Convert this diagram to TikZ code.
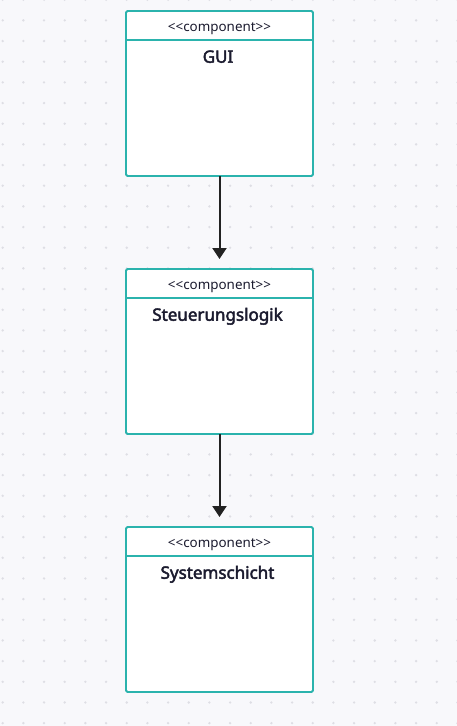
\documentclass[tikz,border=0pt]{standalone}
\usepackage{fontspec}
\setmainfont{Noto Sans}
\newfontfamily\titlefont{Noto Sans}[FakeBold=2.6]
\usetikzlibrary{arrows.meta}
\definecolor{bgc}{HTML}{F8F8FB}
\definecolor{dotc}{HTML}{DEDEE4}
\definecolor{teal}{HTML}{2BB3AD}
\definecolor{ink}{HTML}{1B1B2F}
\definecolor{arr}{HTML}{222222}
\tikzset{
  compbox/.style={draw=teal, line width=1.8pt, fill=white, rounded corners=1.5pt,
    minimum width=187pt, minimum height=165pt, inner sep=0pt, outer sep=0pt, anchor=north west},
  stereo/.style={font=\fontsize{13.4}{15}\selectfont, text=ink, anchor=base},
  ctitle/.style={font=\titlefont\fontsize{17}{20}\selectfont, text=ink, anchor=base},
  flow/.style={draw=arr, line width=2pt, -{Triangle[width=14pt,length=11pt]}, shorten >=10pt}
}
\begin{document}
\begin{tikzpicture}[x=1pt,y=-1pt]
\useasboundingbox (0,0) rectangle (457,726);
\fill[bgc] (0,0) rectangle (457,726);
\foreach \i in {0,...,22}{
  \foreach \j in {0,...,35}{
    \fill[dotc] ({2.7+20.67*\i},{-0.3+20.67*\j}) circle (1.3pt);
  }
}
% boxes
\node[compbox] (gui) at (126,11) {};
\node[compbox] (ctrl) at (126,269) {};
\node[compbox] (sys) at (126,527) {};
% header separators
\foreach \b in {gui,ctrl,sys}{
  \draw[teal, line width=1.8pt] ([yshift=-29pt]\b.north west) -- ([yshift=-29pt]\b.north east);
}
% texts
\node[stereo] (guist) at (219.5,31.5) {<{}<component>{}>};
\node[ctitle] (guiti) at (218,62.7) {GUI};
\node[stereo] (ctrlst) at (219.5,289.5) {<{}<component>{}>};
\node[ctitle] (ctrlti) at (217.5,320.7) {Steuerungslogik};
\node[stereo] (sysst) at (219.5,547.5) {<{}<component>{}>};
\node[ctitle] (systi) at (217.5,578.7) {Systemschicht};
% connectors
\draw[flow] (gui.south) -- (ctrl.north);
\draw[flow] (ctrl.south) -- (sys.north);
\end{tikzpicture}
\end{document}
